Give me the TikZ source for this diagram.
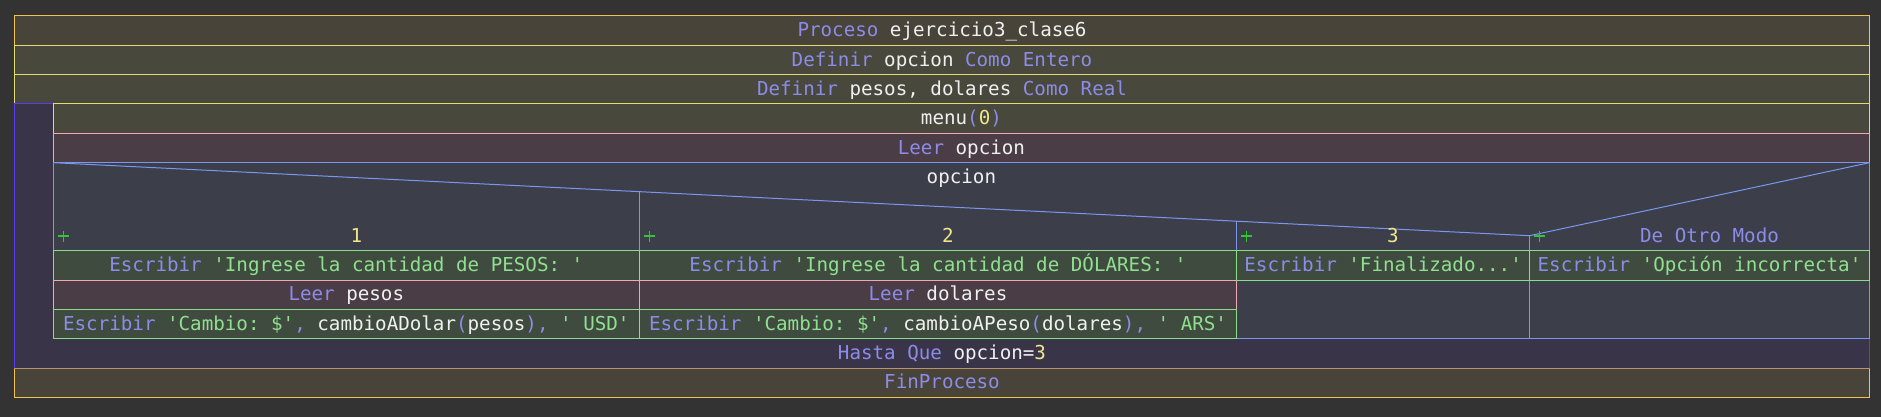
\documentclass[tikz,border=0pt]{standalone}
\usepackage{fontspec}
\setmonofont{DejaVu Sans Mono}
\definecolor{bg}{HTML}{333333}
\definecolor{procFill}{HTML}{49443A}
\definecolor{procDraw}{HTML}{F2C14E}
\definecolor{defFill}{HTML}{48483C}
\definecolor{defDraw}{HTML}{E2DA72}
\definecolor{leerFill}{HTML}{4A3D45}
\definecolor{leerDraw}{HTML}{F2A7B5}
\definecolor{swFill}{HTML}{3C3F4A}
\definecolor{swDraw}{HTML}{7B96EE}
\definecolor{loopFill}{HTML}{3A3449}
\definecolor{loopDraw}{HTML}{5A3CF0}
\definecolor{escFill}{HTML}{3F4B3F}
\definecolor{escDraw}{HTML}{86DE86}
\definecolor{finTop}{HTML}{B89272}
\definecolor{kwc}{HTML}{8C8CE8}
\definecolor{idc}{HTML}{F0F0F0}
\definecolor{stc}{HTML}{90E090}
\definecolor{nuc}{HTML}{F0E68C}
\definecolor{plc}{HTML}{30C830}
\newcommand\Kw[1]{\textcolor{kwc}{#1}}
\newcommand\Id[1]{\textcolor{idc}{#1}}
\newcommand\St[1]{\textcolor{stc}{#1}}
\newcommand\Nu[1]{\textcolor{nuc}{#1}}
\begin{document}
\begin{tikzpicture}[x=1pt,y=-1pt,
  proc/.style={fill=procFill,draw=procDraw,line width=1pt},
  defb/.style={fill=defFill,draw=defDraw,line width=1pt},
  leerb/.style={fill=leerFill,draw=leerDraw,line width=1pt},
  swb/.style={fill=swFill,draw=swDraw,line width=1pt},
  swl/.style={draw=swDraw,line width=1pt},
  loopb/.style={fill=loopFill,draw=loopDraw,line width=1pt},
  escb/.style={fill=escFill,draw=escDraw,line width=1pt},
  plus/.style={draw=plc,line width=1.3pt},
  txt/.style={anchor=base,inner sep=0pt,font=\ttfamily\fontsize{19.2}{23}\selectfont}]
\useasboundingbox (0,0) rectangle (1881,417);
\fill[bg] (0,0) rectangle (1881,417);
% Proceso / Definir
\path[proc] (14.3,16) rectangle (1869.5,45.33);
\path[defb] (14.3,45.33) rectangle (1869.5,74.67);
\path[defb] (14.3,74.67) rectangle (1869.5,104);
% Repetir loop
\path[loopb] (14.3,104) rectangle (1869.5,368);
\path[defb] (53.3,104) rectangle (1869.5,133.33);
\path[leerb] (53.3,133.33) rectangle (1869.5,162.67);
% Segun
\path[swb] (53.3,162.67) rectangle (1869.5,338.67);
\coordinate (tl) at (53.3,162.67);
\coordinate (tr) at (1869.5,162.67);
\coordinate (mid) at (1529.5,235.7);
\coordinate (c1t) at (639.3,191.66);
\coordinate (c2t) at (1236.8,221.2);
\coordinate (c1b) at (639.3,338.67);
\coordinate (c2b) at (1236.8,338.67);
\coordinate (c3b) at (1529.5,338.67);
\draw[swl] (tl) -- (mid) -- (tr);
\draw[swl] (c1t) -- (c1b);
\draw[swl] (c2t) -- (c2b);
\draw[swl] (mid) -- (c3b);
% case bodies
\path[escb] (53.3,250.67) rectangle (639.3,280);
\path[leerb] (53.3,280) rectangle (639.3,309.33);
\path[escb] (53.3,309.33) rectangle (639.3,338.67);
\path[escb] (639.3,250.67) rectangle (1236.8,280);
\path[leerb] (639.3,280) rectangle (1236.8,309.33);
\path[escb] (639.3,309.33) rectangle (1236.8,338.67);
\path[escb] (1236.8,250.67) rectangle (1529.5,280);
\path[escb] (1529.5,250.67) rectangle (1869.5,280);
% FinProceso
\path[proc] (14.3,368) rectangle (1869.5,397.33);
\draw[finTop,line width=1pt] (14.3,368) -- (1869.5,368);
% plus markers
\foreach \px in {63.3,649.3,1246.8,1539.5}{
  \draw[plus] (\px-5.5,236) -- (\px+5.5,236);
  \draw[plus] (\px,230.5) -- (\px,241.5);
}
% texts
\node[txt] (tproc) at (942,36.7) {\Kw{Proceso} \Id{ejercicio3\_clase6}};
\node[txt] (tdef1) at (942,66.03) {\Kw{Definir} \Id{opcion} \Kw{Como Entero}};
\node[txt] (tdef2) at (942,95.37) {\Kw{Definir} \Id{pesos, dolares} \Kw{Como Real}};
\node[txt] (tmenu) at (961.4,124.7) {\Id{menu}\Kw{(}\Nu{0}\Kw{)}};
\node[txt] (tleer) at (961.4,154.03) {\Kw{Leer} \Id{opcion}};
\node[txt] (tsw) at (961.4,183.37) {\Id{opcion}};
\node[txt] (case1) at (356.3,242) {\Nu{1}};
\node[txt] (case2) at (948,242) {\Nu{2}};
\node[txt] (case3) at (1393,242) {\Nu{3}};
\node[txt] (case4) at (1709.5,242) {\Kw{De Otro Modo}};
\node[txt] (e11) at (346.3,271.37) {\Kw{Escribir} \St{'Ingrese la cantidad de PESOS: '}};
\node[txt] (e12) at (346.3,300.7) {\Kw{Leer} \Id{pesos}};
\node[txt] (e13) at (346.3,330.03) {\Kw{Escribir} \St{'Cambio: \$'}\Kw{,} \Id{cambioADolar}\Kw{(}\Id{pesos}\Kw{),} \St{' USD'}};
\node[txt] (e21) at (938,271.37) {\Kw{Escribir} \St{'Ingrese la cantidad de DÓLARES: '}};
\node[txt] (e22) at (938,300.7) {\Kw{Leer} \Id{dolares}};
\node[txt] (e23) at (938,330.03) {\Kw{Escribir} \St{'Cambio: \$'}\Kw{,} \Id{cambioAPeso}\Kw{(}\Id{dolares}\Kw{),} \St{' ARS'}};
\node[txt] (e31) at (1383.1,271.37) {\Kw{Escribir} \St{'Finalizado...'}};
\node[txt] (e41) at (1699.5,271.37) {\Kw{Escribir} \St{'Opción incorrecta'}};
\node[txt] (thasta) at (942,359.37) {\Kw{Hasta Que} \Id{opcion=}\Nu{3}};
\node[txt] (tfin) at (942,388.7) {\Kw{FinProceso}};
\end{tikzpicture}
\end{document}
